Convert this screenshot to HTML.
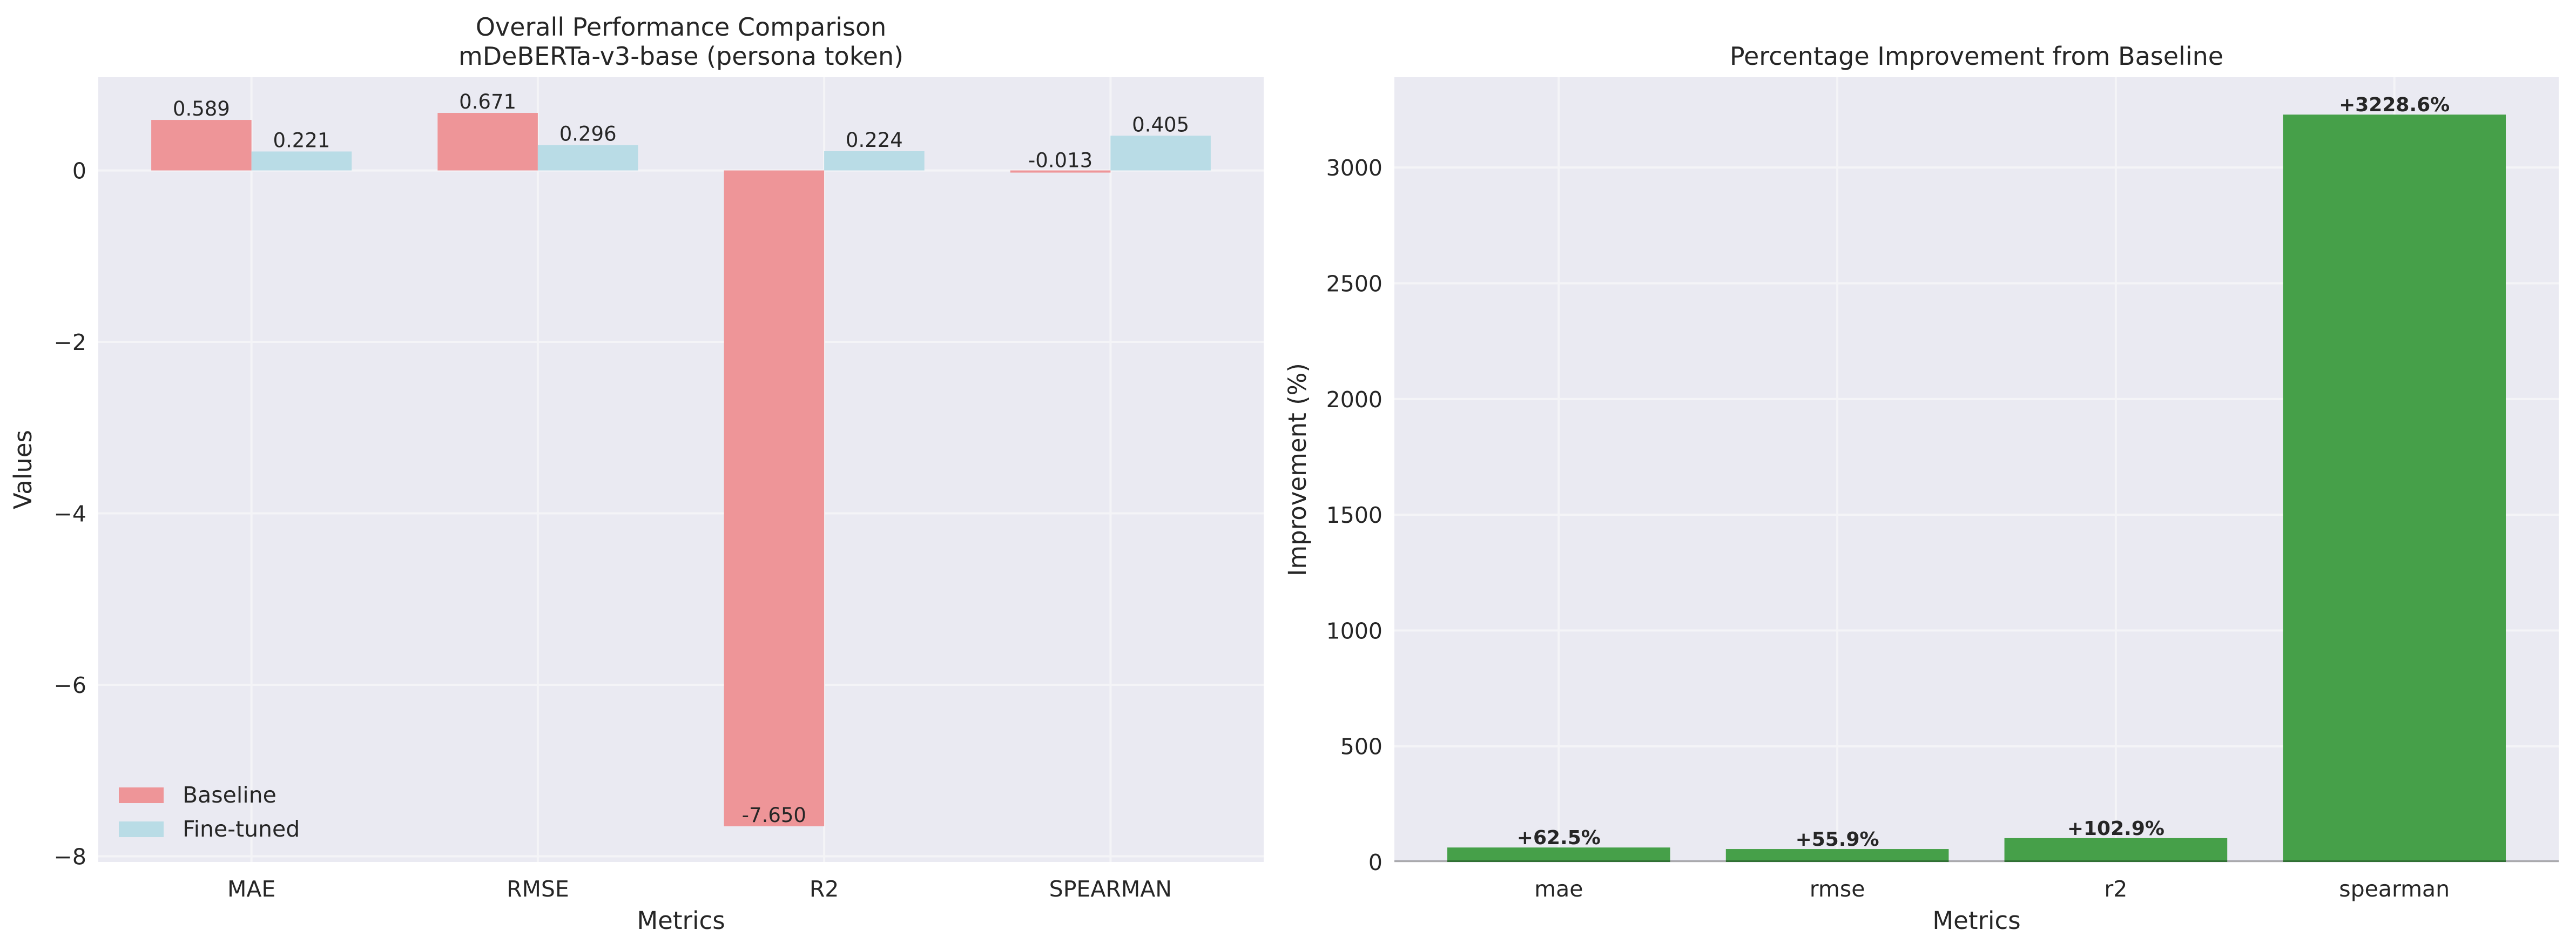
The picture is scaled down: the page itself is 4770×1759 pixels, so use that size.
<!DOCTYPE html>
<html><head><meta charset="utf-8"><style>
html,body{margin:0;padding:0;background:#fff}
svg{display:block}
text{font-family:"DejaVu Sans","Liberation Sans",sans-serif;fill:#262626}
</style></head><body>
<svg id="c" width="4770" height="1759" viewBox="0 0 4770 1759" xmlns="http://www.w3.org/2000/svg"></svg>
<script>
const categories = ["MAE","RMSE","R2","SPEARMAN"];
const baselineVals = [0.589, 0.671, -7.650, -0.013];
const finetunedVals = [0.221, 0.296, 0.224, 0.405];
const leftTicks = [0, -2, -4, -6, -8];
const impCategories = ["mae","rmse","r2","spearman"];
const impVals = [62.5, 55.9, 102.9, 3228.6];
const rightTicks = [0, 500, 1000, 1500, 2000, 2500, 3000];

const NS="http://www.w3.org/2000/svg";
const svg=document.getElementById('c');
function el(tag,attrs,parent,text){const e=document.createElementNS(NS,tag);for(const k in attrs)e.setAttribute(k,attrs[k]);if(text!==undefined)e.textContent=text;(parent||svg).appendChild(e);return e;}

// ---------- Left chart ----------
const L={x0:182,x1:2340,y0:143,y1:1596};
const lmin=Math.min(...baselineVals,...finetunedVals,0), lmax=Math.max(...baselineVals,...finetunedVals,0);
const lpad=(lmax-lmin)*0.05;
const lyMin=lmin-lpad, lyMax=lmax+lpad;
const lxMin=-0.35-0.185, lxMax=categories.length-1+0.35+0.185;
const lx=v=>L.x0+(v-lxMin)/(lxMax-lxMin)*(L.x1-L.x0);
const ly=v=>L.y1-(v-lyMin)/(lyMax-lyMin)*(L.y1-L.y0);
const gL=el('g',{},svg);


const bgL=el('rect',{x:L.x0,y:L.y0,width:L.x1-L.x0,height:L.y1-L.y0,fill:'#EAEAF2'},gL);


leftTicks.forEach(t=>{
  const y=ly(t);
  const g=el('line',{x1:L.x0,x2:L.x1,y1:y,y2:y,stroke:'#F4F4F7','stroke-width':4},gL);
  
  
  const tx=el('text',{x:L.x0-22,y:y+15,'text-anchor':'end','font-size':41},gL,t<0?'\u2212'+Math.abs(t):String(t));
  
  
});
categories.forEach((c,i)=>{
  const x=lx(i);
  const g=el('line',{x1:x,x2:x,y1:L.y0,y2:L.y1,stroke:'#F4F4F7','stroke-width':4},gL);
  
  
  const tx=el('text',{x:x,y:1660,'text-anchor':'middle','font-size':41},gL,c);
  
  
});
function lbar(i,v,off,color,name){
  const xa=lx(i+off-0.175), xb=lx(i+off+0.175);
  const ya=ly(Math.max(v,0)), yb=ly(Math.min(v,0));
  const r=el('rect',{x:xa,y:ya,width:xb-xa,height:Math.max(yb-ya,4),fill:color},gL);
  
  
  const t=el('text',{x:(xa+xb)/2,y:ly(v)-8,'text-anchor':'middle','font-size':37},gL,v.toFixed(3));
  
  
}
categories.forEach((c,i)=>{
  lbar(i,baselineVals[i],-0.175,'#EE9598','baseline-bar-'+c.toLowerCase());
  lbar(i,finetunedVals[i],0.175,'#B9DCE6','finetuned-bar-'+c.toLowerCase());
});
const t1=el('text',{x:(L.x0+L.x1)/2,y:66,'text-anchor':'middle','font-size':46},gL,'Overall Performance Comparison');


const t2=el('text',{x:(L.x0+L.x1)/2,y:120,'text-anchor':'middle','font-size':46},gL,'mDeBERTa-v3-base (persona token)');


const xl=el('text',{x:(L.x0+L.x1)/2,y:1720,'text-anchor':'middle','font-size':45},gL,'Metrics');


const yl=el('text',{x:58,y:(L.y0+L.y1)/2,'text-anchor':'middle','font-size':45,transform:`rotate(-90 58 ${(L.y0+L.y1)/2})`},gL,'Values');


const lg=el('g',{},gL);


const lp1=el('rect',{x:220,y:1458,width:83,height:29,fill:'#EE9598'},lg);


const lt1=el('text',{x:338,y:1486,'font-size':41},lg,'Baseline');


const lp2=el('rect',{x:220,y:1521,width:83,height:29,fill:'#B9DCE6'},lg);


const lt2=el('text',{x:338,y:1549,'font-size':41},lg,'Fine-tuned');



// ---------- Right chart ----------
const R={x0:2582,x1:4738,y0:143,y1:1596};
const rMax=Math.max(...impVals)*1.05;
const rxMin=-0.59, rxMax=impCategories.length-1+0.59;
const rx=v=>R.x0+(v-rxMin)/(rxMax-rxMin)*(R.x1-R.x0);
const ry=v=>R.y1-v/rMax*(R.y1-R.y0);
const gR=el('g',{},svg);


const bgR=el('rect',{x:R.x0,y:R.y0,width:R.x1-R.x0,height:R.y1-R.y0,fill:'#EAEAF2'},gR);


rightTicks.forEach(t=>{
  const y=ry(t);
  const g=el('line',{x1:R.x0,x2:R.x1,y1:y,y2:y,stroke:'#F4F4F7','stroke-width':4},gR);
  
  
  const tx=el('text',{x:R.x0-22,y:y+15,'text-anchor':'end','font-size':41},gR,String(t));
  
  
});
impCategories.forEach((c,i)=>{
  const x=rx(i);
  const g=el('line',{x1:x,x2:x,y1:R.y0,y2:R.y1,stroke:'#F4F4F7','stroke-width':4},gR);
  
  
  const tx=el('text',{x:x,y:1660,'text-anchor':'middle','font-size':41},gR,c);
  
  
});
impCategories.forEach((c,i)=>{
  const v=impVals[i];
  const xa=rx(i-0.4), xb=rx(i+0.4), ya=ry(v);
  const r=el('rect',{x:xa,y:ya,width:xb-xa,height:R.y1-ya,fill:'#46A049'},gR);
  
  
  const t=el('text',{x:(xa+xb)/2,y:ya-6,'text-anchor':'middle','font-size':36,'font-weight':'bold'},gR,'+'+v.toFixed(1)+'%');
  
  
});
const zl=el('line',{x1:R.x0,x2:R.x1,y1:R.y1-1.5,y2:R.y1-1.5,stroke:'#000','stroke-opacity':0.3,'stroke-width':3},gR);


const rt=el('text',{x:(R.x0+R.x1)/2,y:120,'text-anchor':'middle','font-size':46},gR,'Percentage Improvement from Baseline');


const rxl=el('text',{x:(R.x0+R.x1)/2,y:1720,'text-anchor':'middle','font-size':45},gR,'Metrics');


const ryl=el('text',{x:2418,y:(R.y0+R.y1)/2,'text-anchor':'middle','font-size':45,transform:`rotate(-90 2418 ${(R.y0+R.y1)/2})`},gR,'Improvement (%)');


</script>
</body></html>
